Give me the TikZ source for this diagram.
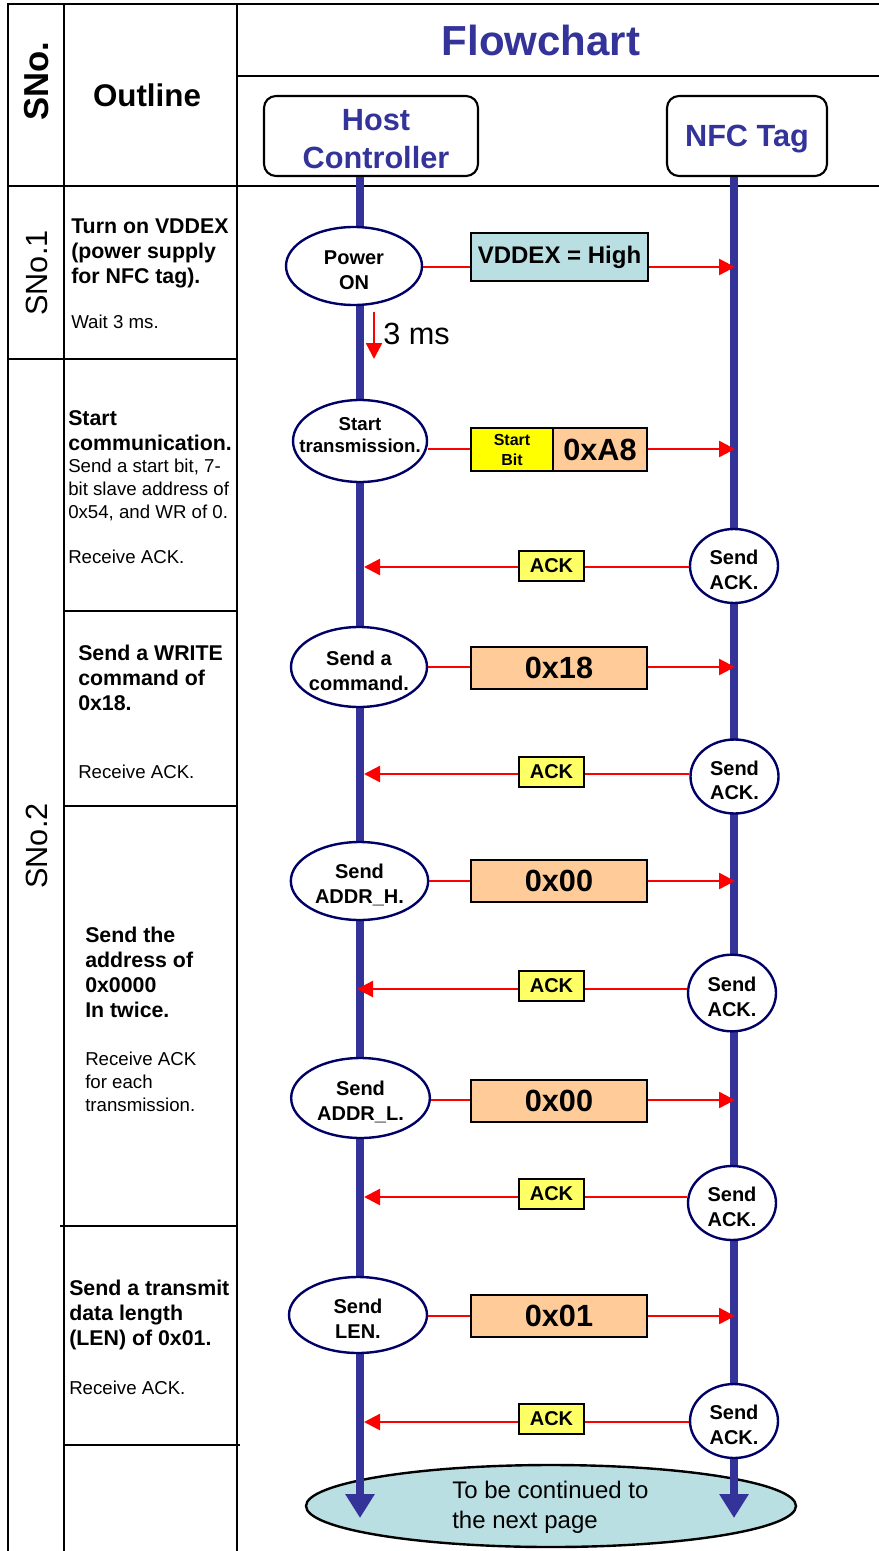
\documentclass[tikz,border=0pt]{standalone}
\usepackage{fontspec}
\setmainfont{Liberation Sans}
\usetikzlibrary{arrows.meta,shapes.geometric}

\definecolor{lifeblue}{HTML}{333399}
\definecolor{navyline}{HTML}{000066}
\definecolor{sigred}{HTML}{FF0000}
\definecolor{paleteal}{HTML}{B9DFE2}
\definecolor{peach}{HTML}{FFCC99}
\definecolor{ackyellow}{HTML}{FFFF66}
\definecolor{bityellow}{HTML}{FFFF00}

\newcommand{\fsz}[2]{\fontsize{#1}{#2}\selectfont}

\begin{document}
\begin{tikzpicture}[x=0.75pt,y=-0.75pt,
  rule/.style={line width=2.2pt, line cap=rect},
  hdrbox/.style={draw, line width=1.6pt, rounded corners=9pt, fill=white,
    minimum height=60pt, inner sep=0pt},
  hdrtxt/.style={text=lifeblue, align=center, inner sep=0pt,
    font=\fsz{23}{28.5}\bfseries},
  % ellipse wording sits slightly below the centre
  elltxt/.style={align=center, inner sep=0pt, yshift=-3pt,
    font=\fsz{15}{18.5}\bfseries},
  hostell/.style={ellipse, draw=navyline, line width=1.8pt, fill=white,
    inner sep=0pt, minimum width=102pt, minimum height=58.5pt},
  tagell/.style={ellipse, draw=navyline, line width=1.8pt, fill=white,
    inner sep=0pt, minimum width=66pt, minimum height=55.5pt},
  lifeline/.style={draw=lifeblue, line width=6pt,
    -{Triangle[length=18pt,width=21pt]}},
  sig/.style={draw=sigred, line width=1.8pt,
    -{Triangle[length=12pt,width=12pt]}},
  databox/.style={draw, line width=1.5pt, fill=peach, inner sep=0pt,
    minimum width=132pt, minimum height=31.5pt, font=\fsz{23}{26}\bfseries},
  ackbox/.style={draw, line width=1.5pt, fill=ackyellow, inner sep=0pt,
    minimum width=48.75pt, minimum height=22.5pt, font=\fsz{15}{18}\bfseries},
  stepnote/.style={anchor=west, align=left, inner sep=0pt,
    font=\fsz{16}{18.75}\bfseries},
  subnote/.style={anchor=west, align=left, inner sep=0pt,
    font=\fsz{14}{17.25}}
]
\useasboundingbox (0,0) rectangle (878,1551);

% ---- table grid ----
\draw[rule] (8,4) -- (878,4);
\draw[rule] (237,76) -- (878,76);
\draw[rule] (8,186) -- (878,186);
\draw[rule] (8,4) -- (8,1551);
\draw[rule] (64,4) -- (64,1551);
\draw[rule] (237,4) -- (237,1551);
\draw[rule] (8,359) -- (237,359);
\draw[rule] (64,611) -- (237,611);
\draw[rule] (64,806) -- (237,806);
\draw[rule] (61,1226) -- (237,1226);
\draw[rule] (64,1445) -- (239,1445);

% ---- header texts ----
\node[rotate=90, inner sep=0pt, font=\fsz{26}{30}\bfseries] (hsno) at (37,81) {SNo.};
\node[inner sep=0pt, font=\fsz{23.5}{28}\bfseries] (houtline) at (147,95) {Outline};
\node[inner sep=0pt, text=lifeblue, font=\fsz{31.5}{36}\bfseries] (hflow) at (541,40) {Flowchart};
\node[rotate=90, inner sep=0pt, font=\fsz{23}{27}] (sno1) at (37,273) {SNo.1};
\node[rotate=90, inner sep=0pt, font=\fsz{23}{27}] (sno2) at (37,846) {SNo.2};

% ---- outline column ----
\node[stepnote] (o1) at (71,253) {Turn on VDDEX\\(power supply\\for NFC tag).};
\node[subnote] (o1w) at (71,322) {Wait 3 ms.};
\node[stepnote] (o2) at (68,430.5) {Start\\communication.};
\node[subnote] (o2s) at (68,489.5) {Send a start bit, 7-\\bit slave address of\\0x54, and WR of 0.};
\node[subnote] (o2r) at (68,557) {Receive ACK.};
\node[stepnote] (o3) at (78,677.5) {Send a WRITE\\command of\\0x18.};
\node[subnote] (o3r) at (78,772) {Receive ACK.};
\node[stepnote] (o4) at (85,972.5) {Send the\\address of\\0x0000\\In twice.};
\node[subnote] (o4r) at (85,1082) {Receive ACK\\for each\\transmission.};
\node[stepnote] (o5) at (69,1314.5) {Send a transmit\\data length\\(LEN) of 0x01.};
\node[subnote] (o5r) at (69,1388) {Receive ACK.};

% ---- continuation ellipse (under the lifelines) ----
\node[ellipse, draw, line width=1.8pt, fill=paleteal, inner sep=0pt,
  minimum width=367.5pt, minimum height=61.5pt] (cont) at (551,1506) {};
\node[anchor=west, align=left, inner sep=0pt, font=\fsz{18}{22.5}] (conttxt)
  at (452,1507) {To be continued to\\the next page};

% ---- participants and lifelines ----
\node[hdrbox, minimum width=160.5pt] (hostbox) at (371,136) {};
\node[hdrtxt] (hosttxt) at (376,139) {Host\\Controller};
\node[hdrbox, minimum width=120pt] (tagbox) at (747,136) {};
\node[hdrtxt] (tagtxt) at (747,139) {NFC Tag};

\coordinate (hostend) at (360,1518);
\coordinate (tagend) at (734,1518);
\draw[lifeline] (hostbox.south -| hostend) -- (hostend);
\draw[lifeline] (tagbox.south -| tagend) -- (tagend);

% ---- host actions ----
\node[hostell, label={[elltxt]center:{Power\\ON}}] (pwr) at (354,266) {};
\node[hostell, minimum width=100.5pt, minimum height=61.5pt,
  label={[elltxt, yshift=7.5pt, font=\fsz{14}{17}\bfseries]center:{Start\\transmission.}}] (st) at (360,441) {};
\node[hostell, minimum height=60pt,
  label={[elltxt]center:{Send a\\command.}}] (cmd) at (359,667) {};
\node[hostell, minimum width=103pt,
  label={[elltxt]center:{Send\\ADDR\_H.}}] (adh) at (359.5,881) {};
\node[hostell, minimum width=104pt, minimum height=60pt,
  label={[elltxt]center:{Send\\ADDR\_L.}}] (adl) at (360.5,1098) {};
\node[hostell, minimum width=103.5pt, minimum height=57pt,
  label={[elltxt]center:{Send\\LEN.}}] (len) at (358,1315) {};

% ---- tag acknowledgements ----
\node[tagell, label={[elltxt]center:{Send\\ACK.}}] (ak1) at (734,566) {};
\node[tagell, label={[elltxt]center:{Send\\ACK.}}] (ak2) at (734.5,776.5) {};
\node[tagell, minimum height=57.5pt, label={[elltxt]center:{Send\\ACK.}}] (ak3) at (732,993) {};
\node[tagell, label={[elltxt]center:{Send\\ACK.}}] (ak4) at (732,1203) {};
\node[tagell, label={[elltxt]center:{Send\\ACK.}}] (ak5) at (734,1421) {};

% ---- arrow end points on the lifelines ----
\coordinate (t1) at (735,267);
\coordinate (t2) at (735,449);
\coordinate (t3) at (735,667);
\coordinate (t4) at (735,881);
\coordinate (t5) at (735,1100);
\coordinate (t6) at (735,1316);
\coordinate (h1) at (364,567);
\coordinate (h2) at (364,774);
\coordinate (h3) at (357,989);
\coordinate (h4) at (364,1197);
\coordinate (h5) at (364,1422);

% ---- host to tag transfers ----
\draw[sig] (pwr.east |- t1) -- (t1);
\draw[sig] (st.east |- t2) -- (t2);
\draw[sig] (cmd.east |- t3) -- (t3);
\draw[sig] (adh.east |- t4) -- (t4);
\draw[sig] (adl.east |- t5) -- (t5);
\draw[sig] (len.east |- t6) -- (t6);

% ---- tag to host acknowledgements ----
\draw[sig] (ak1.west |- h1) -- (h1);
\draw[sig] (ak2.west |- h2) -- (h2);
\draw[sig] (ak3.west |- h3) -- (h3);
\draw[sig] (ak4.west |- h4) -- (h4);
\draw[sig] (ak5.west |- h5) -- (h5);

% ---- wait after power on ----
\coordinate (w0) at (374,312);
\coordinate (w1) at (374,359);
\draw[sig] (w0) -- (w1);
\node[anchor=west, inner sep=0pt, font=\fsz{23}{27}] (waitlbl) at (383,334) {3 ms};

% ---- transferred data ----
\node[databox, fill=paleteal, minimum width=132.75pt, minimum height=36pt,
  font=\fsz{18}{21}\bfseries] (dvdd) at (559.5,257) {VDDEX = High};
\node[draw, line width=1.5pt, fill=bityellow, inner sep=0pt, align=center,
  minimum width=61.5pt, minimum height=32.25pt, font=\fsz{12}{15}\bfseries]
  (dbit) at (512,449.5) {Start\\Bit};
\node[databox, minimum width=70.5pt, minimum height=32.25pt] (da8) at (600,449.5) {0xA8};
\node[databox] (d18) at (559,667.5) {0x18};
\node[databox] (d00h) at (559,881) {0x00};
\node[databox] (d00l) at (559,1101) {0x00};
\node[databox] (d01) at (559,1315.5) {0x01};

% ---- acknowledgement tags ----
\node[ackbox] (k1) at (551.5,566) {ACK};
\node[ackbox] (k2) at (551.5,772) {ACK};
\node[ackbox] (k3) at (551.5,986) {ACK};
\node[ackbox] (k4) at (551.5,1194) {ACK};
\node[ackbox] (k5) at (551.5,1419) {ACK};
\end{tikzpicture}
\end{document}
